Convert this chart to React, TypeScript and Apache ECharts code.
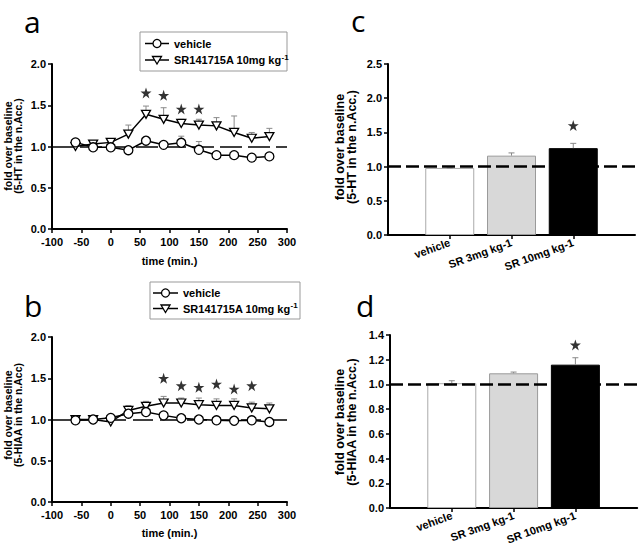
import React, { useEffect, useRef } from "react";
import * as echarts from "echarts";

const times = [-60, -30, 0, 30, 60, 90, 120, 150, 180, 210, 240, 270];
const htVehicle = [1.05, 0.99, 0.99, 0.955, 1.07, 1.02, 1.045, 0.96, 0.895, 0.895, 0.865, 0.88];
const htVehicleErr = [0.03, 0.01, 0.01, 0.01, 0.03, 0.04, 0.08, 0.1, 0.02, 0.04, 0.02, 0.02];
const htSR = [1.0, 1.03, 1.05, 1.15, 1.39, 1.33, 1.28, 1.26, 1.25, 1.17, 1.1, 1.12];
const htSRErr = [0.01, 0.01, 0.02, 0.11, 0.1, 0.14, 0.05, 0.07, 0.1, 0.2, 0.07, 0.1];
const htStarT = [60, 90, 120, 150];
const htStarY = [1.65, 1.62, 1.455, 1.455];

const hiaaVehicle = [0.99, 1.0, 1.02, 1.07, 1.09, 1.05, 1.015, 1.0, 0.99, 0.985, 0.99, 0.97];
const hiaaVehicleErr = [0.01, 0.01, 0.01, 0.03, 0.02, 0.02, 0.01, 0.01, 0.01, 0.01, 0.01, 0.01];
const hiaaSR = [1.0, 1.0, 0.97, 1.11, 1.16, 1.2, 1.2, 1.18, 1.17, 1.17, 1.14, 1.13];
const hiaaSRErr = [0.01, 0.01, 0.01, 0.06, 0.06, 0.08, 0.06, 0.08, 0.08, 0.08, 0.07, 0.07];
const hiaaStarT = [90, 120, 150, 180, 210, 240];
const hiaaStarY = [1.5, 1.41, 1.39, 1.43, 1.37, 1.41];

const groups = ["vehicle", "SR 3mg kg-1", "SR 10mg kg-1"];
const htBar = [0.98, 1.16, 1.27];
const htBarErr = [0.0, 0.04, 0.07];
const htBarStar = 1.6;
const hiaaBar = [1.01, 1.09, 1.16];
const hiaaBarErr = [0.02, 0.01, 0.056];
const hiaaBarStar = 1.32;

const timeTicks = { min: -100, max: 300, interval: 50 };

const FONT = "'Liberation Sans', Arial, sans-serif";
const STAR =
  "path://M12,0 L14.8,8.5 L23.6,8.5 L16.5,13.8 L19.2,22.4 L12,17.1 L4.8,22.4 L7.5,13.8 L0.4,8.5 L9.2,8.5 Z";

const barStyles = [
  { color: "#ffffff", borderColor: "#aaaaaa", borderWidth: 1 },
  { color: "#d8d8d8", borderColor: "#9a9a9a", borderWidth: 1 },
  { color: "#000000", borderColor: "#000000", borderWidth: 1 },
];

function errRender(capHalf: number, color: string) {
  return (params: any, api: any) => {
    const x = api.value(0);
    const y = api.value(1);
    const e = api.value(2);
    const p0 = api.coord([x, y]);
    const p1 = api.coord([x, y + e]);
    return {
      type: "group",
      children: [
        { type: "line", shape: { x1: p0[0], y1: p0[1], x2: p1[0], y2: p1[1] }, style: { stroke: color, lineWidth: 1 } },
        { type: "line", shape: { x1: p1[0] - capHalf, y1: p1[1], x2: p1[0] + capHalf, y2: p1[1] }, style: { stroke: color, lineWidth: 1 } },
      ],
    };
  };
}

function yAx(gridIndex: number, max: number, interval: number) {
  return {
    type: "value",
    gridIndex,
    min: 0,
    max,
    interval,
    axisLine: { show: true, onZero: false, lineStyle: { color: "#000", width: 2 } },
    axisTick: { show: true, length: 4, lineStyle: { color: "#000", width: 1.5 } },
    axisLabel: { color: "#000", fontWeight: "bold", fontSize: 11, fontFamily: FONT, margin: 6, formatter: (v: number) => v.toFixed(1) },
    splitLine: { show: false },
  };
}

function timeAx(gridIndex: number, gap: number) {
  return {
    type: "value",
    gridIndex,
    ...timeTicks,
    name: "time (min.)",
    nameLocation: "middle",
    nameGap: gap,
    nameTextStyle: { color: "#000", fontWeight: "bold", fontSize: 11, fontFamily: FONT },
    axisLine: { show: true, onZero: false, lineStyle: { color: "#000", width: 2 } },
    axisTick: { show: true, length: 4, lineStyle: { color: "#000", width: 1.5 } },
    axisLabel: { color: "#000", fontWeight: "bold", fontSize: 11, fontFamily: FONT, margin: 7 },
    splitLine: { show: false },
  };
}

function catAx(gridIndex: number) {
  return {
    type: "category",
    gridIndex,
    data: ["", ...groups, ""],
    boundaryGap: false,
    axisLine: { show: true, onZero: false, lineStyle: { color: "#000", width: 2 } },
    axisTick: { show: true, length: 4, interval: (i: number) => i > 0 && i < 4, lineStyle: { color: "#000", width: 1.5 } },
    axisLabel: { color: "#000", fontWeight: "bold", fontSize: 11, fontFamily: FONT, rotate: 20, interval: 0, margin: 7 },
    splitLine: { show: false },
  };
}

function timeSeries(idx: number, veh: number[], vehErr: number[], sr: number[], srErr: number[], starT: number[], starY: number[], dash: number[]) {
  return [
    {
      type: "line",
      xAxisIndex: idx,
      yAxisIndex: idx,
      data: [],
      silent: true,
      markLine: {
        z: 1,
        silent: true,
        symbol: "none",
        label: { show: false },
        lineStyle: { color: "#000", width: 1.5, type: dash },
        data: [{ yAxis: 1 }],
      },
    },
    {
      type: "custom",
      xAxisIndex: idx,
      yAxisIndex: idx,
      z: 2,
      renderItem: errRender(3, "#8a8a8a"),
      data: times.map((t, i) => [t, sr[i], srErr[i]]),
    },
    {
      type: "custom",
      xAxisIndex: idx,
      yAxisIndex: idx,
      z: 2,
      renderItem: errRender(3, "#8a8a8a"),
      data: times.map((t, i) => [t, veh[i], vehErr[i]]),
    },
    {
      name: "SR141715A",
      type: "line",
      xAxisIndex: idx,
      yAxisIndex: idx,
      z: 3,
      data: times.map((t, i) => [t, sr[i]]),
      symbol: "triangle",
      symbolRotate: 180,
      symbolSize: [9, 8],
      showAllSymbol: true,
      lineStyle: { color: "#000", width: 1.5 },
      itemStyle: { color: "#fff", borderColor: "#000", borderWidth: 1.3 },
    },
    {
      name: "vehicle",
      type: "line",
      xAxisIndex: idx,
      yAxisIndex: idx,
      z: 4,
      data: times.map((t, i) => [t, veh[i]]),
      symbol: "circle",
      symbolSize: 9,
      showAllSymbol: true,
      lineStyle: { color: "#000", width: 1.5 },
      itemStyle: { color: "#fff", borderColor: "#000", borderWidth: 1.3 },
    },
    {
      type: "scatter",
      xAxisIndex: idx,
      yAxisIndex: idx,
      symbol: STAR,
      symbolSize: 11,
      itemStyle: { color: "#000" },
      data: starT.map((t, i) => [t, starY[i]]),
    },
  ];
}

function barSeries(idx: number, vals: number[], errs: number[], starY: number) {
  return [
    {
      type: "bar",
      xAxisIndex: idx,
      yAxisIndex: idx,
      barWidth: 49,
      z: 2,
      data: groups.map((g, i) => ({ value: [g, vals[i]], itemStyle: barStyles[i] })),
      markLine: {
        z: 5,
        silent: true,
        symbol: "none",
        label: { show: false },
        lineStyle: { color: "#000", width: 2.5, type: [13, 5] },
        data: [{ yAxis: 1 }],
      },
    },
    {
      type: "custom",
      xAxisIndex: idx,
      yAxisIndex: idx,
      z: 3,
      renderItem: errRender(3, "#888"),
      data: groups.map((g, i) => [i + 1, vals[i], errs[i]]),
    },
    {
      type: "scatter",
      xAxisIndex: idx,
      yAxisIndex: idx,
      symbol: STAR,
      symbolSize: 11,
      itemStyle: { color: "#000" },
      data: [[groups[2], starY]],
    },
  ];
}

function yTitle(x: number, y: number, text: string, size: number, lh: number) {
  return {
    type: "text",
    x,
    y,
    rotation: Math.PI / 2,
    style: {
      text,
      fill: "#000",
      font: `bold ${size}px ${FONT}`,
      align: "center",
      verticalAlign: "middle",
      lineHeight: lh,
    },
  };
}

function panelLetter(x: number, y: number, t: string) {
  return {
    type: "text",
    x,
    y,
    style: { text: t, fill: "#000", font: `30px 'Open Sans', 'DejaVu Sans', sans-serif`, align: "left", verticalAlign: "middle" },
  };
}

function legend(bx: number, by: number, bw: number, bh: number, lx1: number, lx2: number, tx: number, y1: number, y2: number) {
  const mx = (lx1 + lx2) / 2;
  return {
    type: "group",
    children: [
      { type: "rect", shape: { x: bx, y: by, width: bw, height: bh }, style: { fill: "#fff", stroke: "#999", lineWidth: 1 } },
      { type: "line", shape: { x1: lx1, y1, x2: lx2, y2: y1 }, style: { stroke: "#000", lineWidth: 1.5 } },
      { type: "circle", shape: { cx: mx, cy: y1, r: 4 }, style: { fill: "#fff", stroke: "#000", lineWidth: 1.3 } },
      { type: "text", x: tx, y: y1, style: { text: "vehicle", fill: "#000", font: `bold 11px ${FONT}`, verticalAlign: "middle" } },
      { type: "line", shape: { x1: lx1, y1: y2, x2: lx2, y2 }, style: { stroke: "#000", lineWidth: 1.5 } },
      { type: "polygon", shape: { points: [[mx - 4.5, y2 - 3.5], [mx + 4.5, y2 - 3.5], [mx, y2 + 4]] }, style: { fill: "#fff", stroke: "#000", lineWidth: 1.3 } },
      {
        type: "text",
        x: tx,
        y: y2,
        style: {
          text: "{a|SR141715A 10mg kg}{s|-1}",
          verticalAlign: "middle",
          rich: {
            a: { fontSize: 11, fontWeight: "bold", fontFamily: FONT, color: "#000", lineHeight: 14 },
            s: { fontSize: 8, fontWeight: "bold", fontFamily: FONT, color: "#000", verticalAlign: "top", lineHeight: 8 },
          },
        },
      },
    ],
  };
}

export default function App() {
  const ref = useRef<HTMLDivElement>(null);
  useEffect(() => {
    document.body.style.margin = "0";
    const chart = echarts.init(ref.current!, null, { renderer: "svg" });
    chart.setOption({
      animation: false,
      backgroundColor: "#fff",
      grid: [
        { left: 52, top: 64, width: 235, height: 165 },
        { left: 52, top: 337, width: 235, height: 165 },
        { left: 388, top: 64, width: 247, height: 171 },
        { left: 390, top: 335, width: 249, height: 173 },
      ],
      xAxis: [timeAx(0, 26), timeAx(1, 25), catAx(2), catAx(3)],
      yAxis: [yAx(0, 2.0, 0.5), yAx(1, 2.0, 0.5), yAx(2, 2.5, 0.5), yAx(3, 1.4, 0.2)],
      series: [
        ...timeSeries(0, htVehicle, htVehicleErr, htSR, htSRErr, htStarT, htStarY, [22, 6]),
        ...timeSeries(1, hiaaVehicle, hiaaVehicleErr, hiaaSR, hiaaSRErr, hiaaStarT, hiaaStarY, [20, 7]),
        ...barSeries(2, htBar, htBarErr, htBarStar),
        ...barSeries(3, hiaaBar, hiaaBarErr, hiaaBarStar),
      ],
      graphic: [
        panelLetter(24, 21, "a"),
        panelLetter(24, 305, "b"),
        panelLetter(351, 20, "c"),
        panelLetter(356, 305, "d"),
        yTitle(13, 146, "fold over baseline\n(5-HT in the n.Acc.)", 10.5, 10.5),
        yTitle(13, 415, "fold over baseline\n(5-HIAA in the n.Acc)", 10.5, 10.5),
        yTitle(346, 147, "fold over baseline\n(5-HT in the n.Acc.)", 12.5, 12.5),
        yTitle(346, 422, "fold over baseline\n(5-HIAA in the n.Acc.)", 12.5, 12.5),
        legend(140, 32, 147, 39, 145, 169, 174, 43.5, 60),
        legend(150, 282, 150, 37, 153, 178, 183, 293, 308.5),
      ],
    });
    return () => chart.dispose();
  }, []);
  return <div ref={ref} style={{ width: 640, height: 551 }} />;
}
